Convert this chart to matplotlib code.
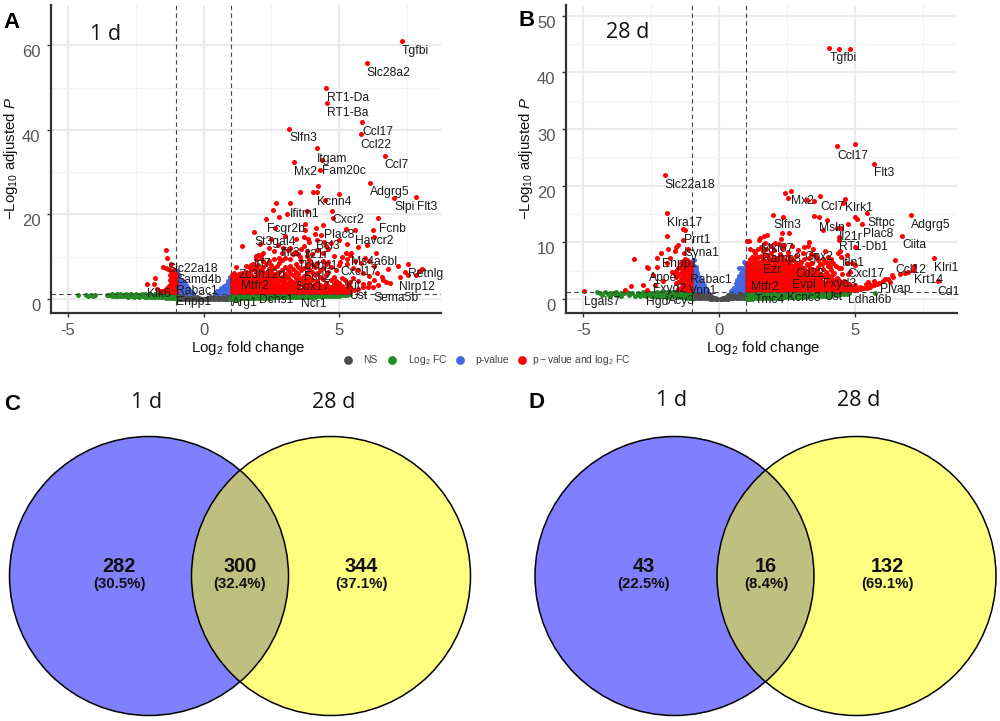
import matplotlib
matplotlib.use("Agg")
import matplotlib.pyplot as plt
from matplotlib.patches import Circle
from matplotlib.transforms import ScaledTranslation

plt.rcParams['font.family'] = ['Liberation Sans', 'DejaVu Sans']
plt.rcParams['mathtext.fontset'] = 'custom'
plt.rcParams['mathtext.rm'] = 'Liberation Sans'
plt.rcParams['mathtext.it'] = 'Liberation Sans:italic'
plt.rcParams['mathtext.bf'] = 'Liberation Sans:bold'

# ---------- shared NS / blue columns ----------
grey_a_x = [-0.97, -0.88, -0.79, -0.7, -0.61, -0.52, -0.43, -0.34, -0.25, -0.16, -0.07,
            0.07, 0.16, 0.25, 0.34, 0.43, 0.52, 0.61, 0.7, 0.79, 0.88, 0.97]
grey_a_y = [[0.05, 0.45, 0.85, 1.15], [0.05, 0.45, 0.85, 1.15], [0.05, 0.45, 0.85, 1.15], [0.05, 0.45, 0.85, 1.15],
            [0.05, 0.45, 0.85, 1.1], [0.05, 0.45, 0.85, 1.05], [0.05, 0.4, 0.75, 1.0], [0.05, 0.35, 0.6],
            [0.03, 0.2, 0.4], [0.02, 0.1, 0.2], [0.01, 0.05],
            [0.01, 0.05], [0.02, 0.1, 0.2], [0.03, 0.2, 0.4], [0.05, 0.35, 0.6], [0.05, 0.4, 0.75, 1.0],
            [0.05, 0.45, 0.85, 1.05], [0.05, 0.45, 0.85, 1.1], [0.05, 0.45, 0.85, 1.15], [0.05, 0.45, 0.85, 1.15],
            [0.05, 0.45, 0.85, 1.15], [0.05, 0.45, 0.85, 1.15]]
grey_b_x = [-0.97, -0.88, -0.79, -0.7, -0.61, -0.52, -0.43, -0.34, -0.25, -0.16, -0.07,
            0.07, 0.16, 0.25, 0.34, 0.43, 0.52, 0.61, 0.7, 0.79, 0.88, 0.97]
grey_b_y = [[0.1, 0.5, 0.9, 1.2], [0.1, 0.5, 0.9, 1.2], [0.1, 0.5, 0.9, 1.2], [0.1, 0.5, 0.9, 1.2],
            [0.1, 0.5, 0.9, 1.15], [0.1, 0.5, 0.9, 1.1], [0.1, 0.45, 0.8, 1.0], [0.05, 0.35, 0.65],
            [0.03, 0.2, 0.4], [0.02, 0.1, 0.15], [0.01, 0.03],
            [0.01, 0.03], [0.02, 0.1, 0.15], [0.03, 0.2, 0.4], [0.05, 0.35, 0.65], [0.1, 0.45, 0.8, 1.0],
            [0.1, 0.5, 0.9, 1.1], [0.1, 0.5, 0.9, 1.15], [0.1, 0.5, 0.9, 1.2], [0.1, 0.5, 0.9, 1.2],
            [0.1, 0.5, 0.9, 1.2], [0.1, 0.5, 0.9, 1.2]]

blue_a_x = [-0.98, -0.9, -0.82, -0.74, -0.66, -0.58, -0.5, -0.42, 0.42, 0.5, 0.58, 0.66, 0.74, 0.82, 0.9, 0.98]
blue_a_y = [[1.6, 2.4, 3.2, 4, 4.8, 5.6, 6.6], [1.6, 2.4, 3.2, 4, 4.8, 5.6], [1.6, 2.3, 3, 3.7, 4.4],
            [1.6, 2.2, 2.8, 3.4, 4], [1.5, 2.1, 2.7, 3.3], [1.5, 2, 2.6], [1.5, 2], [1.4, 1.7],
            [1.4], [1.4, 1.8], [1.5, 2], [1.5, 2.1, 2.6], [1.5, 2.1, 2.7, 3], [1.6, 2.2, 2.8, 3.4],
            [1.6, 2.3, 3, 3.7, 4.2], [1.6, 2.4, 3.2, 4, 4.8, 5.2]]
blue_b_x = [-0.98, -0.92, -0.86, -0.8, -0.74, -0.68, -0.62, -0.56, -0.5, -0.44,
            0.44, 0.5, 0.56, 0.62, 0.68, 0.74, 0.8, 0.86, 0.92, 0.98]
blue_b_y = [[1.6, 2.2, 2.8, 3.4, 4, 4.6, 5.2, 5.8, 6.5], [1.6, 2.2, 2.8, 3.4, 4, 4.6, 5.2, 5.9, 6.9],
            [1.6, 2.2, 2.8, 3.4, 4, 4.6, 5.2, 5.7], [1.6, 2.2, 2.8, 3.4, 4, 4.6],
            [1.6, 2.2, 2.8, 3.4, 3.9], [1.6, 2.2, 2.8, 3.3], [1.5, 2.1, 2.7], [1.5, 2, 2.4], [1.5, 1.9], [1.4, 1.6],
            [1.4], [1.4, 1.7], [1.5, 2], [1.5, 2.1, 2.8], [1.5, 2.1, 2.7, 3.4], [1.6, 2.2, 2.8, 3.4, 4.1, 5.5],
            [1.6, 2.2, 2.8, 3.4, 4, 4.6], [1.6, 2.2, 2.8, 3.4, 4, 4.6, 5.4], [1.6, 2.2, 2.8, 3.4, 4, 4.6, 5.2, 6.6],
            [1.6, 2.2, 2.8, 3.4, 4, 4.6, 5.2, 6]]

# ---------- green columns ----------
green_a_x = [-4.64, -4.33, -4.25, -4.17, -4.09, -4.02, -3.58, -3.48, -3.38, -3.28, -3.18, -3.08, -2.98, -2.88, -2.78,
             -2.68, -2.58, -2.48, -2.38, -2.28, -2.18, -2.08, -1.98, -1.88, -1.78, -1.68, -1.58, -1.48, -1.38, -1.28, -1.18, -1.08, -1.01,
             1.02, 1.1, 1.2, 1.3, 1.4, 1.5, 1.6, 1.7, 1.8, 1.9, 2.0, 2.1, 2.2, 2.3, 2.4, 2.5, 2.6, 2.7, 2.8, 2.9, 3.0, 3.1, 3.2,
             3.3, 3.4, 3.5, 3.6, 3.7, 3.8, 3.9, 4.0, 4.1, 4.2, 4.3, 4.4, 4.5, 4.6, 4.7, 4.8, 4.9, 5.0, 5.1, 5.2, 5.3, 5.4]
green_a_y = [[1.0], [0.9], [0.8], [1.0], [0.8], [0.9], [1.0], [0.9], [0.8, 1.1], [0.7, 1.0], [0.8, 1.1], [0.7, 1.2], [0.7, 1.0], [0.8, 1.1], [0.6, 1.0],
             [0.7, 1.1], [0.6, 0.9], [0.7, 1.1], [0.6, 1.0], [0.7, 1.1], [0.5, 0.9, 1.2], [0.6, 1.0], [0.5, 0.9, 1.2], [0.5, 0.9], [0.5, 0.8, 1.1], [0.4, 0.8, 1.2],
             [0.4, 0.7, 1.1], [0.4, 0.8, 1.2], [0.3, 0.7, 1.1], [0.3, 0.7, 1.1], [0.3, 0.7, 1.1], [0.2, 0.6, 1.0], [0.2, 0.6, 1.0],
             [0.1, 0.5, 0.9, 1.2], [0.1, 0.5, 0.9, 1.2], [0.1, 0.5, 0.9, 1.2], [0.1, 0.5, 0.9, 1.2], [0.2, 0.6, 1.0], [0.2, 0.6, 1.0], [0.2, 0.6, 1.0], [0.2, 0.6, 1.0],
             [0.2, 0.6, 1.0], [0.3, 0.7, 1.1], [0.3, 0.7, 1.1], [0.3, 0.7, 1.1], [0.3, 0.7, 1.1], [0.3, 0.7, 1.1], [0.3, 0.7, 1.1], [0.3, 0.7, 1.1], [0.4, 0.8, 1.1],
             [0.4, 0.8, 1.1], [0.4, 0.8, 1.1], [0.4, 0.8, 1.2], [0.4, 0.8, 1.2], [0.4, 0.8, 1.2], [0.5, 0.9, 1.2], [0.5, 0.9, 1.2], [0.5, 0.9, 1.2], [0.5, 0.9, 1.2],
             [0.5, 0.9, 1.2], [0.5, 0.9, 1.2], [0.6, 0.9, 1.2], [0.6, 0.9, 1.2], [0.6, 1.0], [0.6, 1.0], [0.7, 1.0], [0.7, 1.0], [0.7, 1.1], [0.7, 1.1], [0.7, 1.1],
             [0.8, 1.1], [0.8, 1.1], [0.8, 1.1], [0.8, 1.2], [0.9, 1.2], [0.9, 1.2], [1.0, 1.2], [1.1]]
green_b_x = [-4.5, -4.4, -4.3, -4.2, -4.1, -4.0, -3.9, -3.8, -3.7, -3.6, -3.5, -3.4, -3.3, -3.2, -3.1, -3.0, -2.9, -2.8, -2.7, -2.6,
             -2.5, -2.4, -2.3, -2.2, -2.1, -2.0, -1.9, -1.8, -1.7, -1.6, -1.5, -1.4, -1.3, -1.2, -1.1, -1.02,
             1.02, 1.1, 1.2, 1.3, 1.4, 1.5, 1.6, 1.7, 1.8, 1.9, 2.0, 2.1, 2.2, 2.3, 2.4, 2.5, 2.6, 2.7, 2.8, 2.9, 3.0, 3.1, 3.2,
             3.3, 3.4, 3.5, 3.6, 3.7, 3.8, 3.9, 4.0, 4.1, 4.2, 4.3, 4.4, 4.5, 4.6, 4.7, 4.8, 5.75]
green_b_y = [[1.2], [1.0], [0.7], [1.2], [0.8], [0.6, 1.1], [1.1], [0.7, 1.2], [0.9], [0.5, 1.1], [1.0], [1.2], [0.7, 1.1], [1.0], [0.6], [1.1],
             [0.5, 0.9], [0.7, 1.2], [0.6, 1.0], [0.8, 1.2],
             [0.5, 1.0], [0.6, 1.1], [0.5, 0.9, 1.2], [0.6, 1.0], [0.5, 0.9, 1.2], [0.6, 1.0], [0.4, 0.8, 1.2], [0.4, 0.8, 1.2], [0.5, 0.9, 1.2], [0.4, 0.8, 1.2],
             [0.3, 0.7, 1.1], [0.3, 0.7, 1.1], [0.3, 0.7, 1.1], [0.2, 0.6, 1.0], [0.2, 0.6, 1.0], [0.1, 0.5, 0.9, 1.2],
             [0.0, 0.4, 0.8, 1.2], [0.0, 0.4, 0.8, 1.2], [0.0, 0.4, 0.8, 1.2], [0.1, 0.5, 0.9, 1.2], [0.1, 0.5, 0.9, 1.2], [0.1, 0.5, 0.9, 1.2], [0.1, 0.5, 0.9, 1.2],
             [0.1, 0.5, 0.9, 1.2], [0.2, 0.6, 1.0], [0.2, 0.6, 1.0], [0.2, 0.6, 1.0], [0.2, 0.6, 1.0], [0.2, 0.6, 1.0], [0.3, 0.7, 1.1], [0.3, 0.7, 1.1], [0.3, 0.7, 1.1],
             [0.3, 0.7, 1.1], [0.3, 0.7, 1.1], [0.4, 0.8, 1.2], [0.4, 0.8, 1.2], [0.4, 0.8, 1.2], [0.4, 0.8, 1.2], [0.4, 0.8, 1.2], [0.5, 0.9, 1.2], [0.5, 0.9, 1.2],
             [0.5, 0.9, 1.2], [0.5, 0.9, 1.2], [0.5, 0.9, 1.2], [0.6, 1.0], [0.6, 1.0], [0.6, 1.0], [0.6, 1.0], [0.7, 1.1], [0.7, 1.1], [0.7, 1.1], [0.8, 1.1], [0.8, 1.2],
             [0.9, 1.2], [1.0, 1.2], [1.0]]

# ---------- red dense columns ----------
red_a_col_x = [-1.48, -1.4, -1.32, -1.24, -1.16, -1.08, -1.02,
               1.03, 1.12, 1.21, 1.30, 1.39, 1.48, 1.57, 1.66, 1.75, 1.84, 1.93, 2.02, 2.11, 2.2, 2.3, 2.4, 2.5, 2.6, 2.7, 2.8, 2.9, 3.0,
               3.1, 3.2, 3.3, 3.4, 3.5, 3.6, 3.7, 3.8, 3.9, 4.0, 4.1, 4.2, 4.3, 4.4, 4.5, 4.6, 4.7, 4.8, 4.9, 5.0, 5.1, 5.2, 5.3, 5.4]
red_a_col_y = [[1.8], [1.9, 2.3], [2.0, 2.8, 7.2], [1.7, 2.5, 3.4, 4.6, 5.7, 6.8], [1.7, 2.4, 3.2, 4.1, 5.0, 5.9], [1.6, 2.2, 3.0, 3.7, 4.4, 5.2, 6.0, 6.8], [1.6, 2.3, 3.0, 3.8, 4.5, 5.3, 6.1],
               [1.6, 2.2, 2.8, 3.4, 4, 4.6, 5.2, 5.8], [1.7, 2.3, 2.9, 3.5, 4.1, 4.7, 5.4, 6.1], [1.6, 2.1, 2.8, 3.3, 3.9, 4.5, 5.1, 5.6, 7.5], [1.7, 2.3, 2.9, 3.6, 4.2, 4.8, 5.3, 6],
               [1.6, 2.2, 2.7, 3.4, 4, 4.4, 5.2, 6.2], [1.7, 2.3, 2.8, 3.5, 4.1, 4.9, 5.7], [1.6, 2.1, 2.9, 3.3, 4.2, 4.7, 5.5, 6.4, 7.9], [1.7, 2.4, 3, 3.6, 4.3, 5.1, 6, 7.5],
               [1.6, 2.2, 2.8, 3.4, 4.1, 4.8, 5.6, 6.9, 8], [1.7, 2.3, 3, 3.7, 4.4, 5.2, 7.2, 8.3], [1.6, 2.2, 2.9, 3.5, 4.3, 5.4, 6.6, 7.4, 9.5, 10.2], [1.7, 2.4, 3.1, 3.8, 4.7, 6.1, 8, 10.4],
               [1.6, 2.2, 2.8, 3.6, 4.5, 5.7, 7, 9.8, 10.5], [1.7, 2.4, 3.2, 4.1, 5.3, 6.4, 7.6, 9], [1.6, 2.3, 3, 3.9, 4.9, 6.2, 8.3], [1.7, 2.5, 3.3, 4.4, 5.6, 7.1, 9],
               [1.6, 2.2, 3.1, 4, 5.2, 6.5, 8.1], [1.7, 2.6, 3.5, 4.7, 6, 7.4, 9.5], [1.6, 2.4, 3.2, 4.3, 5.5, 7.8], [1.7, 2.5, 3.4, 4.6, 6.3, 8.5, 9.6], [1.6, 2.3, 3.1, 4.2, 5.1, 6.8, 9.2],
               [1.7, 2.6, 3.6, 4.8, 5.9, 7.5, 9.8], [1.6, 2.2, 3.0, 3.9, 5.3, 6.9], [1.7, 2.5, 3.4, 4.5, 6.2, 7.8, 9.5], [1.6, 2.3, 3.2, 4.1, 5.6, 7.2], [1.7, 2.5, 3.7, 5, 6.5, 8.4],
               [1.6, 2.4, 3.1, 4.4, 5.9, 7.6, 10.6], [1.7, 2.2, 3.5, 4.9, 6.8, 9], [1.6, 2.5, 3.3, 4.2, 5.4, 7.3], [1.7, 2.3, 3.0, 4.7, 6.2, 8.1, 10.2], [1.6, 2.6, 3.8, 5.1, 7, 9.3],
               [1.7, 2.2, 3.2, 4.4, 6.4, 8.2], [1.6, 2.5, 3.6, 5.6, 7.5], [1.7, 2.3, 3.0, 4.3, 6.1, 8.6], [1.6, 2.4, 3.4, 5.2, 6.9], [1.7, 2.2, 3.1, 4.8, 7.3, 9.1], [1.6, 2.5, 3.8, 5.7, 8.2],
               [1.7, 2.3, 3.2, 6.4, 8.8], [1.6, 2.1, 2.9, 4.6, 7.6], [1.7, 2.4, 3.5, 5.3], [1.6, 2.2, 3.0, 4.2, 6.9], [1.7, 2.5, 3.8, 8.1], [1.6, 2.2, 3.1, 5.0], [1.7, 2.4, 4.4], [1.7, 2.6, 3.5],
               [1.8, 2.2, 2.9, 4.0]]
red_b_col_x = [-1.58, -1.5, -1.42, -1.34, -1.26, -1.18, -1.1, -1.03,
               1.03, 1.13, 1.23, 1.33, 1.43, 1.53, 1.63, 1.73, 1.83, 1.93, 2.03, 2.13, 2.23, 2.33, 2.43, 2.53, 2.63, 2.73, 2.83, 2.93, 3.03, 3.13,
               3.23, 3.33, 3.43, 3.53, 3.63, 3.73, 3.83, 3.93, 4.03, 4.13, 4.23, 4.33, 4.43, 4.53, 4.63, 4.73, 4.83, 4.93]
red_b_col_y = [[2.8, 3.9, 5.0], [1.8, 3.0, 4.4, 5.5], [2.0, 3.0, 3.7, 4.6, 5.4, 6.3], [1.7, 2.4, 3.2, 3.9, 4.6, 5.3, 6.0, 6.7], [1.6, 2.2, 2.9, 3.6, 4.3, 5.0, 5.7, 6.4, 7.0],
               [1.6, 2.2, 2.8, 3.5, 4.2, 4.9, 5.6, 6.3, 6.9], [1.6, 2.2, 2.8, 3.4, 4.0, 4.6, 5.2, 5.9, 6.6], [1.6, 2.2, 2.8, 3.4, 4.0, 4.6, 5.2, 5.8, 6.4],
               [1.6, 2.2, 2.8, 3.4, 4, 4.6, 5.2, 5.8, 6.4], [1.6, 2.2, 2.8, 3.4, 4, 4.6, 5.2, 5.8, 6.4, 7.1], [1.7, 2.3, 2.9, 3.5, 4.1, 4.7, 5.3, 5.9, 6.5, 7.4], [1.6, 2.2, 2.8, 3.4, 4, 4.6, 5.2, 5.8, 6.5, 7.2, 8.1],
               [1.7, 2.3, 2.9, 3.5, 4.1, 4.7, 5.3, 5.9, 6.5, 7.4, 8.8], [1.6, 2.2, 2.8, 3.4, 4, 4.6, 5.2, 5.8, 6.6, 7.6, 9.2], [1.7, 2.3, 2.9, 3.5, 4.1, 4.7, 5.3, 5.9, 6.5, 7.1, 8.4], [1.6, 2.2, 2.8, 3.4, 4, 4.6, 5.2, 5.8, 6.7, 7.8, 8.9],
               [1.7, 2.3, 2.9, 3.5, 4.1, 4.7, 5.3, 5.9, 6.5, 7.3], [1.6, 2.2, 2.8, 3.4, 4, 4.6, 5.2, 5.8, 6.8, 8.2], [1.7, 2.3, 2.9, 3.5, 4.1, 4.7, 5.3, 5.9, 6.6, 7.5, 8.7], [1.6, 2.2, 2.8, 3.4, 4, 4.6, 5.2, 5.8, 6.4, 7.2],
               [1.7, 2.3, 2.9, 3.5, 4.1, 4.7, 5.3, 5.9, 6.7, 8.0], [1.6, 2.2, 2.8, 3.4, 4, 4.6, 5.2, 5.8, 6.5, 7.4, 9.0], [1.7, 2.3, 2.9, 3.5, 4.1, 4.7, 5.3, 6.0, 6.9], [1.6, 2.2, 2.8, 3.4, 4, 4.6, 5.2, 5.8, 6.6, 7.7, 8.3],
               [1.7, 2.3, 2.9, 3.5, 4.1, 4.7, 5.3, 6.1, 7.2], [1.6, 2.2, 2.8, 3.4, 4, 4.6, 5.2, 5.9, 6.8], [1.7, 2.3, 2.9, 3.5, 4.1, 4.7, 5.4, 6.4, 7.6], [1.6, 2.2, 2.8, 3.4, 4, 4.6, 5.3, 6.0],
               [1.7, 2.3, 2.9, 3.5, 4.1, 4.8, 5.6, 6.6], [1.6, 2.2, 2.8, 3.4, 4, 4.7, 5.5, 7.0], [1.7, 2.3, 2.9, 3.5, 4.2, 5.0, 6.1], [1.6, 2.2, 2.8, 3.4, 4.1, 4.9, 5.8, 7.3],
               [1.7, 2.3, 2.9, 3.6, 4.4, 5.3, 6.4], [1.6, 2.2, 2.8, 3.5, 4.3, 5.1, 7.7], [1.7, 2.3, 3.0, 3.8, 4.6, 5.7, 6.8], [1.6, 2.2, 2.8, 3.6, 4.5, 6.2], [1.7, 2.3, 3.0, 4.0, 5.3, 7.1],
               [1.6, 2.2, 2.9, 3.9, 4.8, 6.5], [1.7, 2.4, 3.2, 4.3, 5.9], [1.6, 2.2, 3.0, 3.8, 5.1, 7.0], [1.7, 2.5, 3.4, 4.6], [1.6, 2.1, 2.8, 3.7], [1.7, 2.4, 3.1, 5.4], [1.6, 2.2, 2.7],
               [1.7, 2.3, 3.0], [1.6, 2.1, 2.6], [1.7, 2.4], [1.6, 2.0]]

# ---------- red scattered points ----------
red_a_x = [7.32, 6.02, 4.53, 4.56, 5.84, 5.79, 3.17, 4.18, 6.68, 3.33, 4.36, 4.29, 6.15, 4.21, 3.56, 4.04, 4.19, 4.98, 7.04, 7.85,
           4.47, 2.67, 3.19, 2.57, 3.06, 2.80, 3.82, 4.74, 4.78, 2.32, 6.45, 3.73, 4.39, 4.14, 5.25, 5.59, 6.24, 2.63, 1.86, 3.73,
           4.10, 4.34, 6.29, 3.72, 3.87, 2.74, 1.41, 4.43, 3.71, 4.53, 5.70, 6.04, 6.35, 5.27, 5.45, 5.95, 2.94, 3.18, 3.37, 3.55,
           5.29, 5.02, 6.8, 7.17, 7.54, 7.24, 7.42, 7.54, 8.07, 7.95, 7.82, 6.74, 6.62, 6.87, 6.44, 6.25, 6.07, 5.88, 5.7, 5.55,
           -1.39, -1.34, -1.22, -1.49, -1.4, -1.79, -2.09, -1.83, -1.73, -1.6,
           2.2, 2.4, 2.6, 2.9, 3.1, 3.3, 3.6, 3.8, 4.0, 4.2, 4.4, 4.6, 4.8, 5.1, 5.4, 5.6, 5.8, 6.1, 6.3, 5.3,
           5.5, 5.7, 5.9, 6.1, 6.4, 6.6, 3.9, 4.2, 4.7, 5.0, 5.3, 3.4, 3.0, 2.5, 2.1, 5.5, 5.7, 5.9, 6.1, 6.3]
red_a_y = [61.0, 55.8, 49.9, 46.3, 41.9, 38.9, 40.3, 35.7, 33.9, 32.5, 32.8, 30.6, 27.5, 26.8, 25.4, 25.4, 25.4, 24.9, 24.0, 24.2,
           23.4, 22.6, 22.6, 21.1, 20.1, 19.5, 20.9, 20.9, 19.2, 18.9, 19.1, 17.7, 17.6, 16.9, 16.6, 16.3, 16.3, 16.9, 15.9, 16.3,
           15.3, 15.1, 14.7, 14.6, 14.1, 12.8, 12.6, 13.6, 12.6, 12.5, 12.2, 12.8, 11.0, 10.8, 11.0, 9.8, 12.0, 12.0, 11.2, 10.0,
           9.4, 8.7, 7.2, 7.8, 8.2, 5.3, 6.5, 5.6, 7.0, 6.7, 5.7, 4.1, 4.5, 3.7, 3.3, 2.9, 2.8, 2.9, 2.4, 2.2,
           11.6, 9.6, 8.4, 7.5, 7.4, 4.9, 3.5, 3.5, 2.3, 2.0,
           11.0, 12.1, 11.4, 10.8, 11.5, 10.6, 11.8, 11.3, 10.7, 11.6, 10.9, 11.9, 10.2, 9.9, 10.3, 9.1, 8.6, 8.9, 7.8, 8.2,
           7.4, 6.8, 6.2, 5.4, 6.2, 5.1, 13.4, 14.0, 13.2, 14.0, 13.0, 14.3, 15.0, 14.2, 13.0, 5.0, 4.3, 3.5, 3.9, 4.4]
red_b_x = [4.06, 4.42, 4.83, 5.01, 4.36, 5.72, -2.0, -1.93, 2.44, 2.64, 2.54, 3.73, 3.5, 3.25, 4.63, 4.58, 5.46, 7.06, 1.99, 2.37,
           3.51, 3.68, 3.97, 5.02, 5.1, 5.28, 4.74, 4.33, 4.48, 3.82, 6.76, 2.32, 2.59, 1.76, 1.66, 1.51, 1.47, 1.04, 1.09, 2.28,
           2.06, 4.43, 4.43, 3.33, 3.13, 3.29, 3.47, 5.02, 4.46, 4.37, 4.51, 4.7, 3.9, 4.03, 7.92, 6.48, 7.18, 7.16, 6.97, 6.85,
           6.67, 8.08, 6.36, 6.42, 6.24, 6.05, 5.81, 5.56, 5.32, 5.07, 5.9, 5.7, 5.45, 5.2, 4.7, 4.89, 5.0, 4.83, 4.76, 4.55,
           4.21, 4.09, 4.21, -1.25, -1.31, -1.9, -1.31, -1.52, -1.6, -1.87, -1.62, -2.14, -1.29, -1.13, -3.12, -2.3, -2.66, -2.6, -2.3, -1.93,
           -1.8, -2.42, -3.24, -3.46, -2.81, -4.97, -2.66, -2.36, -2.05, -1.74, -1.62,
           3.6, 3.8, 4.0, 4.2, 4.4, 4.6, 4.8, 5.0, 5.2, 5.4, 3.4, 3.6, 3.8, 4.1, 4.3, 4.5, 2.9, 3.1, 3.4, 2.7,
           2.4, 2.2, 1.9, 1.7, 1.3, 1.15, 5.5, 5.7, 5.9, 6.1, 6.3, 5.2, 5.4, 5.6]
red_b_y = [44.3, 44.2, 44.1, 27.4, 27.0, 23.9, 21.9, 15.1, 18.8, 19.0, 17.8, 18.1, 17.3, 17.4, 17.7, 16.9, 15.1, 14.8, 14.9, 14.4,
           14.7, 14.4, 13.9, 14.4, 14.1, 13.3, 13.2, 12.6, 12.6, 12.2, 11.2, 11.7, 11.6, 11.3, 11.1, 10.7, 10.5, 10.2, 10.3, 10.6,
           9.9, 10.9, 10.5, 10.1, 9.2, 9.4, 8.9, 9.1, 8.4, 8.2, 7.5, 7.8, 8.4, 7.5, 7.2, 6.9, 5.9, 5.2, 4.8, 4.6,
           4.5, 3.1, 4.2, 3.8, 3.5, 3.1, 2.6, 2.2, 1.9, 1.7, 2.9, 2.4, 2.0, 1.8, 6.3, 6.3, 6.0, 4.8, 4.4, 4.4,
           4.5, 5.7, 6.3, 12.2, 12.3, 11.2, 10.4, 9.6, 9.1, 8.9, 8.4, 8.1, 8.1, 8.9, 7.1, 7.2, 5.7, 5.4, 5.7, 6.3,
           7.2, 4.2, 2.3, 1.6, 2.4, 1.4, 1.6, 2.5, 3.1, 4.8, 4.5,
           5.2, 4.3, 3.6, 3.2, 3.6, 3.1, 2.7, 2.4, 2.2, 2.6, 6.4, 7.2, 6.1, 6.6, 5.9, 5.4, 8.6, 8.1, 7.9, 9.4,
           9.6, 9.7, 9.3, 9.8, 8.5, 8.8, 3.0, 3.2, 2.9, 3.6, 3.0, 1.7, 1.9, 2.5]

# ---------- gene labels ----------
labels_a = ["Tgfbi", "Slc28a2", "RT1-Da", "RT1-Ba", "Ccl17", "Ccl22", "Slfn3", "Itgam", "Ccl7", "Mx2", "Fam20c", "Adgrg5", "Kcnn4",
            "Slpi", "Flt3", "Ifitm1", "Cxcr2", "Fcgr2b", "Fcnb", "Plac8", "Havcr2", "St3gal4", "Bcl3", "Ifit3", "Il21r", "Ms4a6bl",
            "Irf7", "Tbkbp1", "Slc22a18", "Cxcl17", "Zc3h12d", "Retnlg", "Samd4b", "Fcrl2", "Mtfr2", "Kit", "Sox17", "Nlrp12",
            "Rabac1", "Klk6", "Ust", "Sema5b", "Dchs1", "Enpp1", "Arg1", "Ncr1"]
labels_a_x = [7.32, 6.02, 4.55, 4.57, 5.85, 5.79, 3.17, 4.18, 6.68, 3.33, 4.37, 6.15, 4.2,
              7.05, 7.86, 3.19, 4.75, 2.33, 6.46, 4.46, 5.59, 1.86, 4.14, 2.87, 3.73, 5.45,
              1.87, 3.49, -1.33, 5.06, 1.3, 7.56, -1.0, 3.71, 1.38, 5.27, 3.37, 7.22,
              -1.0, -2.08, 5.37, 6.27, 2.06, -1.02, 1.03, 3.61]
labels_a_y = [58.6, 53.4, 47.6, 43.9, 39.4, 36.5, 38.0, 33.1, 31.7, 30.1, 30.2, 25.2, 22.9,
              21.7, 21.7, 20.2, 18.6, 16.5, 16.6, 15.1, 13.8, 13.4, 12.5, 11.0, 10.4, 8.8,
              8.2, 7.9, 7.0, 6.5, 5.6, 5.8, 4.6, 5.1, 3.1, 3.1, 2.8, 2.8,
              2.0, 1.2, 0.7, 0.3, -0.3, -0.8, -1.0, -1.1]
labels_b = ["Tgfbi", "Ccl17", "Flt3", "Slc22a18", "Mx2", "Ccl7", "Klrk1", "Klra17", "Slfn3", "Sftpc", "Adgrg5", "Msln", "Plac8",
            "Il21r", "Prrt1", "Ciita", "RT1-Db1", "Mki67", "Isyna1", "Ramp3", "Gpx2", "Itln1", "Enpp1", "Ezr", "Ccl12", "Klri1",
            "Cxcl17", "Cd22", "Apoe", "Krt14", "Rabac1", "Fxyd3", "Evpl", "Mtfr2", "Fxyd2", "Vnn1", "Plvap", "Cd1", "Kcnc3", "Ust",
            "Tmc4", "Ldhal6b", "Lgals7", "Hgd", "Acy3"]
labels_b_x = [4.08, 4.35, 5.72, -2.0, 2.64, 3.73, 4.63, -1.93, 1.99, 5.48, 7.06, 3.68, 5.29,
              4.43, -1.3, 6.76, 4.43, 1.53, -1.29, 1.6, 3.13, 4.52, -2.11, 1.63, 6.49, 7.92,
              4.73, 2.8, -2.6, 7.17, -1.07, 3.82, 2.68, 1.18, -2.42, -1.1, 5.95, 8.05, 2.52, 3.88,
              1.3, 4.76, -4.98, -2.7, -1.87]
labels_b_y = [42.6, 25.2, 22.2, 20.1, 17.3, 16.2, 16.1, 13.4, 13.1, 13.4, 13.1, 12.5, 11.4,
              10.9, 10.5, 9.5, 9.1, 8.9, 8.2, 7.1, 7.5, 6.3, 6.2, 5.1, 5.1, 5.4,
              4.5, 4.5, 3.7, 3.3, 3.4, 2.6, 2.4, 2.1, 1.8, 1.5, 1.8, 1.3, 0.2, 0.3,
              -0.2, -0.1, -0.5, -0.5, -0.4]

# ---------- legend and Venn values ----------
legend_names = ["NS", "Log$_2$ FC", "p-value", "$\\mathrm{p}-\\mathrm{value}$ and log$_2$ FC"]
legend_colors = ["#4d4d4d", "#228B22", "#4169E1", "#FF0000"]
venn_titles = ["1 d", "28 d"]
venn_c_counts = ["282", "300", "344"]
venn_c_pcts = ["(30.5%)", "(32.4%)", "(37.1%)"]
venn_d_counts = ["43", "16", "132"]
venn_d_pcts = ["(22.5%)", "(8.4%)", "(69.1%)"]


def flatten(cx, cy):
    xs, ys = [], []
    for x, col in zip(cx, cy):
        for y in col:
            xs.append(x)
            ys.append(y)
    return xs, ys


W, H = 1000, 721
fig = plt.figure(figsize=(W / 100, H / 100), dpi=100)


def px_axes(l, t, r, b):
    return fig.add_axes([l / W, 1 - b / H, (r - l) / W, (b - t) / H])


def volcano(ax, xlim, ylim, yticks, yminor, grey, green, blue, red_cols, red_pts, labels, lx, ly, ylab_x):
    ax.set_xlim(*xlim)
    ax.set_ylim(*ylim)
    ax.set_xticks([-5, 0, 5])
    ax.set_xticklabels(["-5", "0", "5"])
    ax.set_yticks(yticks)
    ax.set_xticks([-2.5, 2.5, 7.5], minor=True)
    ax.set_yticks(yminor, minor=True)
    ax.grid(True, which='major', color='#ebebeb', lw=1.6)
    ax.grid(True, which='minor', color='#f3f3f3', lw=0.8)
    ax.set_axisbelow(True)
    ax.tick_params(which='minor', length=0)
    ax.tick_params(which='major', length=3, width=1.0, color='#333333', labelcolor='#555555', labelsize=12, pad=4.5)
    for lbl in ax.get_yticklabels():
        lbl.set_transform(lbl.get_transform() + ScaledTranslation(0, -6 / 100, fig.dpi_scale_trans))
    for s in ('top', 'right'):
        ax.spines[s].set_visible(False)
    for s in ('left', 'bottom'):
        ax.spines[s].set_color('#333333')
        ax.spines[s].set_linewidth(1.6)
    for pts, col in ((grey, '#4d4d4d'), (green, '#228B22'), (blue, '#4169E1')):
        gx, gy = flatten(*pts)
        ax.scatter(gx, gy, s=13, color=col, linewidths=0, zorder=3)
    rx, ry = flatten(*red_cols)
    ax.scatter(rx, ry, s=13, color='#FF0000', linewidths=0, zorder=3)
    ax.scatter(red_pts[0], red_pts[1], s=13, color='#FF0000', linewidths=0, zorder=3)
    ax.axhline(1.3, color='#444444', lw=0.8, ls=(0, (4, 3)), zorder=4)
    ax.axvline(-1, color='#444444', lw=0.8, ls=(0, (4, 3)), zorder=4)
    ax.axvline(1, color='#444444', lw=0.8, ls=(0, (4, 3)), zorder=4)
    for t, x, y in zip(labels, lx, ly):
        ax.text(x, y, t, fontsize=8.7, color='#1a1a1a', ha='left', va='center', zorder=5, clip_on=False)
    ax.set_xlabel("Log$_2$ fold change", fontsize=10.8, color='#111111')
    ax.xaxis.set_label_coords(0.505, -0.114, transform=ax.transAxes)
    ax.xaxis.label.set_va('center')
    ax.set_ylabel("\u2212Log$_{10}$ adjusted $\\mathit{P}$", fontsize=10.8, color='#111111')
    ax.yaxis.set_label_coords(ylab_x, 0.5, transform=ax.transAxes)
    ax.yaxis.label.set_va('center')


ax_a = px_axes(51, 5, 441, 313)
volcano(ax_a, (-5.63, 8.76), (-3.3, 69.5), [0, 20, 40, 60], [10, 30, 50],
        (grey_a_x, grey_a_y), (green_a_x, green_a_y), (blue_a_x, blue_a_y),
        (red_a_col_x, red_a_col_y), (red_a_x, red_a_y), labels_a, labels_a_x, labels_a_y, -0.103)
ax_b = px_axes(566, 5, 957, 313)
volcano(ax_b, (-5.64, 8.77), (-2.47, 51.9), [0, 10, 20, 30, 40, 50], [5, 15, 25, 35, 45],
        (grey_b_x, grey_b_y), (green_b_x, green_b_y), (blue_b_x, blue_b_y),
        (red_b_col_x, red_b_col_y), (red_b_x, red_b_y), labels_b, labels_b_x, labels_b_y, -0.102)

# overlay in pixel coordinates: Venn diagrams, legend, panel letters
ov = fig.add_axes([0, 0, 1, 1], facecolor='none', zorder=10)
ov.set_xlim(0, W)
ov.set_ylim(H, 0)
ov.axis('off')

SANS2 = ['Open Sans', 'DejaVu Sans']
ov.text(106, 34, "1 d", fontsize=15.5, family=SANS2, ha='center', va='center', color='#111111')
ov.text(628, 32, "28 d", fontsize=15.5, family=SANS2, ha='center', va='center', color='#111111')

for name, xc, y in (("A", 12, 22), ("B", 527, 20), ("C", 12, 404), ("D", 537, 403)):
    ov.text(xc, y, name, fontsize=16, fontweight='bold', ha='center', va='center', color='black')

# legend
for name, col, dx, tx in zip(legend_names, legend_colors, [348, 392, 460, 522], [363, 408, 475, 532]):
    ov.scatter([dx], [360], s=40, color=col, linewidths=0)
    ov.text(tx, 360, name, fontsize=7.4, color='#444444', ha='left', va='center')


def venn(c1, c2, cy, r, titles_x, title_y, counts, pcts, xs):
    ov.add_patch(Circle((c1, cy), r, facecolor=(0, 0, 1, 0.5), edgecolor='none'))
    ov.add_patch(Circle((c2, cy), r, facecolor=(1, 1, 0, 0.5), edgecolor='none'))
    ov.add_patch(Circle((c1, cy), r, facecolor='none', edgecolor='black', lw=1.1))
    ov.add_patch(Circle((c2, cy), r, facecolor='none', edgecolor='black', lw=1.1))
    for t, x in zip(venn_titles, titles_x):
        ov.text(x, title_y, t, fontsize=15.5, family=SANS2, ha='center', va='center', color='#111111')
    for n, p, x in zip(counts, pcts, xs):
        ov.text(x, 567, n, fontsize=14.4, fontweight='bold', ha='center', va='center', color='#111111')
        ov.text(x, 584, p, fontsize=10.8, fontweight='bold', ha='center', va='center', color='#111111')


venn(149, 331, 576, 139.5, [147, 334], 402, venn_c_counts, venn_c_pcts, [119, 240, 361])
venn(674.5, 856.5, 576, 139.5, [672, 859], 401, venn_d_counts, venn_d_pcts, [644, 766, 887])

fig.savefig("out.png", dpi=100)
